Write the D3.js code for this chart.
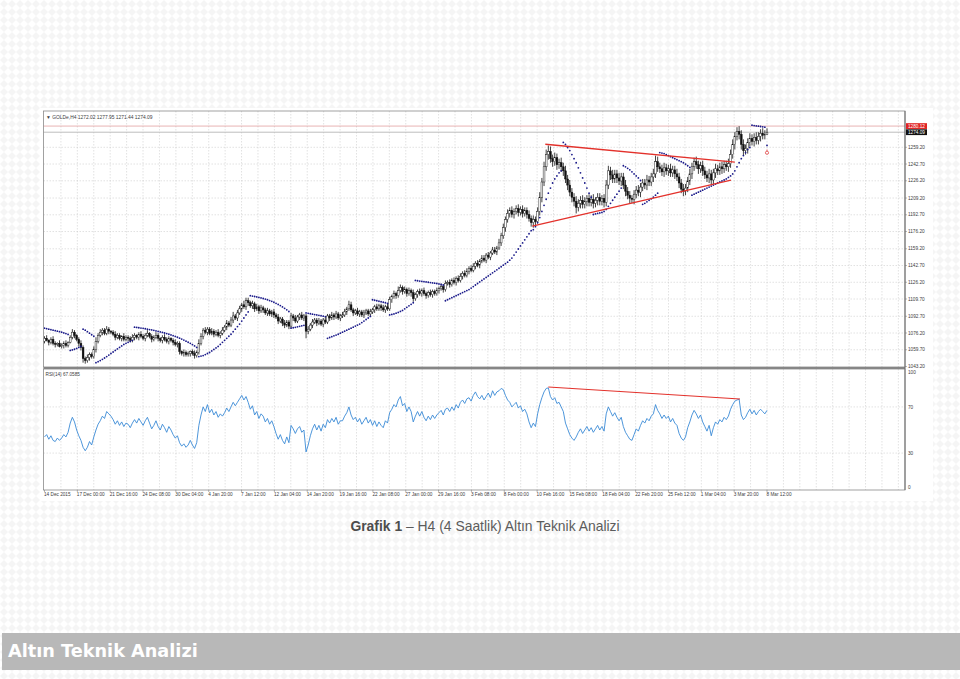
<!DOCTYPE html>
<html>
<head>
<meta charset="utf-8">
<script src="https://cdn.jsdelivr.net/npm/d3@7"></script>
<style>
  body { margin: 0; background: #fff; }
  svg { display: block; }
</style>
</head>
<body>
<svg id="chart" width="960" height="679"></svg>
<script>
// ---- data (GOLD, H4, 14 Dec 2015 - 8 Mar 2016) ----
// closes per bar; each 4H bar opens at the previous close
const firstOpen = 1068;
const closes = [
  1071,1069,1067,1070,1066,1065,1066,1063,1064,1066,1064,1067,
  1072,1077,1074,1070,1066,1062,1051,1049,
  1052,1055,1053,1060,1068,1074,1077,1079,1076,1080,1078,1077,
  1075,1072,1074,1071,1073,1070,1072,1071,1069,1072,
  1074,1072,1075,1073,1071,1074,1076,1073,1070,1072,1074,1071,1069,1072,1070,1068,1071,1069,1067,1065,1066,
  1058,1056,1057,1055,1056,1058,1056,1054,1057,
  1066,1073,1079,1077,1080,1076,1078,1075,1077,1074,1076,
  1079,1082,1086,1084,1089,1093,1091,1096,1100,1104,1102,1108,
  1106,1103,1105,1100,1102,1098,1101,1099,1096,1098,1095,1097,1094,
  1092,1088,1090,1086,1084,1087,1083,1093,1091,1088,1092,1094,1091,1093,
  1078,1080,1084,1087,1089,1086,1088,1085,1089,1087,1093,1091,1094,1092,1095,1091,1093,
  1094,1097,1100,1104,1099,1096,1098,1095,1097,1094,1096,1098,1095,1097,
  1099,1102,1100,1103,1101,1099,1102,1100,1109,1112,1115,1113,1118,1121,
  1117,1119,1115,1118,1116,1110,1114,1117,1115,1118,1115,1113,1116,1114,1117,1115,1118,
  1120,1122,1119,1125,1126,1124,1128,1126,1130,1128,1132,1135,1133,1137,
  1140,1138,1142,1145,1143,1147,1150,1148,1153,1151,1155,1158,1156,1160,
  1165,1172,1180,1188,1194,1197,1193,1196,1199,1195,1198,1194,1197,1193,1189,1185,1188,1186,
  1196,1210,1225,1240,1252,1255,1248,1245,1249,1242,1244,1240,1236,
  1228,1222,1215,1210,1206,1200,1204,1207,1203,1206,1209,1205,1208,1204,1207,1210,1206,1209,1205,
  1222,1236,1232,1228,1233,1229,1226,1230,1222,1216,1212,1209,1208,
  1213,1217,1215,1220,1224,1222,1227,1225,1230,1233,1245,1240,
  1238,1235,1239,1236,1238,1234,1237,1233,1230,1224,1218,1216,1219,
  1226,1233,1240,1245,1242,1238,1241,1236,1232,1229,1233,1227,
  1234,1238,1236,1240,1238,1242,1240,1243,1252,1262,1270,1275,1272,
  1262,1256,1258,1264,1268,1265,1269,1266,1270,1273,1271,1272.02,1274.09
];
// wick length above / below the body, price units
const wickUp = [
  2,3,1,2,3,2,1,3,2,2,3,1,2,3,2,1,2,3,2,2,
  3,2,2,3,4,2,3,2,2,3,2,1,2,3,2,2,1,3,2,2,
  2,3,2,1,2,3,2,2,3,1,2,2,3,2,1,2,3,2,2,1,
  2,3,2,2,1,3,2,2,1,2,3,2,4,3,2,3,2,2,3,2,
  2,3,2,3,2,3,2,3,4,2,3,3,2,4,3,3,2,3,2,3,
  2,3,2,2,3,2,2,3,2,3,2,2,3,2,2,3,2,3,2,2,
  3,2,2,3,2,3,2,2,3,2,2,3,2,2,3,2,3,2,2,3,
  3,2,4,3,2,2,3,2,2,3,2,2,3,2,2,3,2,2,3,2,
  3,3,2,3,2,4,3,2,3,2,3,2,3,2,2,3,2,3,2,2,
  3,2,2,3,2,3,2,3,2,3,2,3,2,3,3,2,3,3,2,3,
  3,2,3,2,3,3,2,3,2,3,3,2,4,3,4,3,4,3,4,3,
  3,4,3,4,3,3,4,3,4,3,4,5,4,5,5,6,5,4,5,4,
  4,5,4,5,4,5,4,4,5,4,4,5,4,3,4,4,5,3,4,4,
  3,4,5,5,4,5,4,4,5,4,4,5,4,4,3,4,4,5,4,4,
  4,5,4,4,5,6,5,4,4,5,4,4,5,4,4,5,4,4,5,4,
  4,5,4,4,5,4,4,5,4,4,5,4,4,5,4,4,5,4,4,5,
  5,5,4,4,5,4,5,4,4,5,4,4,5,4,4,5,4,3.86
];
const wickDn = [
  2,1,3,2,2,3,2,1,2,3,2,2,1,2,3,2,3,3,4,3,
  2,3,2,2,3,2,2,3,2,2,3,2,2,3,2,2,3,2,2,3,
  2,2,3,2,3,2,2,3,2,2,3,2,2,3,2,3,2,2,3,2,
  3,2,3,3,2,3,2,2,3,2,3,2,2,2,3,2,3,2,2,3,
  2,2,3,2,2,3,2,2,3,2,3,2,3,2,3,3,2,3,3,2,
  3,2,3,2,3,2,3,3,2,3,2,3,3,2,3,2,3,2,2,3,
  2,3,7,3,2,3,2,3,2,2,3,2,2,3,2,3,2,2,3,2,
  2,3,2,2,3,2,2,3,2,3,2,2,3,2,3,2,2,3,2,3,
  2,2,3,2,3,2,2,3,2,3,2,4,3,2,3,2,3,2,3,2,
  2,3,2,2,3,2,3,2,2,3,2,2,3,2,2,3,2,2,3,2,
  2,3,2,3,2,2,3,2,3,2,2,3,2,3,3,4,3,4,3,4,
  3,4,3,4,3,4,3,4,5,4,2,4,5,4,4,5,4,5,4,5,
  4,5,5,4,5,4,5,5,6,4,5,4,4,5,4,4,5,4,5,4,
  4,5,4,4,5,4,4,5,4,5,4,5,4,5,4,5,4,4,5,4,
  4,5,4,4,5,4,5,4,4,5,4,5,4,4,5,4,5,4,5,4,
  4,4,5,4,4,5,4,5,4,4,5,4,4,5,4,4,5,4,4,5,
  4,4,5,4,5,5,5,4,5,4,4,5,4,4,5,4,4,0.58
];
// RSI(14)
const rsi = [
  44,46,42,45,41,40,43,41,43,46,44,48,
  56,61,57,50,45,41,35,32,
  35,40,37,44,50,55,58,62,60,66,64,62,
  59,55,58,54,57,53,56,55,52,56,
  59,56,60,57,54,58,61,56,51,54,58,53,50,55,52,48,53,50,46,43,45,
  39,36,38,35,37,41,37,34,39,
  54,63,70,66,72,65,68,63,66,61,64,
  62,65,69,66,70,74,71,74,77,80,76,79,
  74,68,71,63,66,60,64,62,57,60,55,58,53,
  47,42,46,41,38,44,39,54,51,47,51,53,48,50,
  31,37,45,51,55,50,54,49,55,52,59,56,60,57,61,55,58,
  58,62,65,70,63,59,61,57,60,55,58,61,56,59,
  54,58,53,57,54,52,58,56,65,68,72,70,76,79,
  71,73,66,70,66,57,62,66,62,66,61,58,62,59,63,60,63,
  65,67,63,68,69,66,70,67,72,69,74,76,73,77,
  78,75,80,83,79,77,80,76,79,82,78,84,80,83,
  84,86,85,80,76,74,70,72,74,69,71,66,68,64,57,52,56,53,
  64,72,78,83,86,86.5,79,76,78,73,74,70,66,
  56,51,46,43,41,44,48,51,47,50,53,49,52,48,51,54,50,53,49,
  64,70,66,62,65,61,58,61,53,48,45,42,41,
  46,51,49,54,58,56,60,58,62,64,72,67,
  64,60,63,60,62,57,60,56,54,47,43,41,44,
  52,57,63,67,64,60,63,57,53,49,54,45,
  52,57,55,59,57,61,59,62,68,72,75,76,76.7,
  63,59,61,65,68,64,67,63,66,68,66,64,67.06
];
// Parabolic SAR
const sar = [
  1081,1080.5,1080,1079.5,1079,1078.5,1078,1077.5,1077,1076.3,1075.6,1074.8,
  1059,1059.5,1060.2,1061,1062,1063,
  1080,1079,1077.5,1076,1074.5,1073,
  1047,1048,1049,1050.3,1051.6,1053,1054.5,1056,1057.5,1059,1060.5,1062,1063.5,1065,1066,1067,1068,1069,
  1082,1081.7,1081.4,1081.1,1080.8,1080.4,1080,1079.6,1079.2,1078.8,1078.3,1077.8,1077.3,1076.8,1076.2,
  1075.6,1075,1074.3,1073.6,1072.8,1072,1071.1,1070.2,1069.2,1068.2,1067.1,1066,1064.8,1063.5,1062,
  1053,1053.5,1054,1055,1056,1057,1058.5,1060,1061.5,1063,1065,1067,1069,1071,1073,1075,1077.5,1080,1082.5,1085,1088,1091,1094,1097,
  1113,1112.6,1112.2,1111.8,1111.3,1110.8,1110.2,1109.6,1109,1108.2,1107.4,1106.5,1105.5,1104.4,1103.2,1101.9,1100.5,1099,1097.4,
  1081,1081.4,1081.8,1082.3,1082.8,1083.3,1083.8,
  1096,1095.6,1095.2,1094.8,1094.4,1094,1093.6,1093.2,1092.8,1092.4,
  1071,1071.8,1072.6,1073.4,1074.2,1075,1076,1077,1078,1079,1080,1081,1082,1083,1084,1085,1086.5,1088,1089.5,1091,1092.5,
  1109,1108.5,1108,1107.5,1107,1106.5,1106,1105.5,
  1094,1094.5,1095,1095.7,1096.5,1097.5,1098.5,1100,1101.5,1103,1104.5,1106,
  1128,1127.7,1127.4,1127.1,1126.8,1126.5,1126.2,1125.9,1125.6,1125.3,1125,1124.5,1124,1123.5,
  1108,1109,1110,1111,1112,1113,1114,1115,1116,1117,1118,1119,1120.5,1122,1123.5,1125,
  1126.5,1128,1129.5,1131,1132.5,1134,1135.5,1137,1138.5,1140,1141.5,1143,1144.5,1146,1148,
  1150,1153,1156,1159,1162,1165,1168,1171,1174,1177,
  1178,1181,1185,1190,1196,1202,1208,1214,1219,1224,1228,1231,1234,1236,
  1264,1262,1259,1256,1252,1248,1244,1239,1234,1229,1224,1219,1214,1210,
  1193,1193.5,1194,1194.5,1195,1196,1198,1201,1204,1207,1210,1213,1216,1219,
  1241,1240,1238.5,1237,1235,1233,1231,1229,1226.5,
  1203,1204,1205.5,1207,1208.5,1210,1212,1214,
  1254,1253.5,1253,1252,1251,1250,1249,1248,1247,1246,1245,1244,1242.5,1241,1239.5,
  1212,1213,1214,1215,1216,1217,1218,1219,1220,1221,1222,1223,1224,1225,1226,1227,1228,1229.5,1231,
  1233,1236,1240,1244,1248,1251,1254,1257,1259,
  1281,1280.6,1280.3,1280,1279.7,1279.4,1279,
  1261
];

const priceTicks = [1259.20, 1242.70, 1226.20, 1209.20, 1192.70, 1176.20, 1159.20,
  1142.70, 1126.20, 1109.70, 1092.70, 1076.20, 1059.70, 1043.20];
const rsiTicks = [100, 70, 30, 0];
const rsiLevels = [70, 30];
const timeLabels = ['14 Dec 2015', '17 Dec 00:00', '21 Dec 16:00', '24 Dec 08:00', '30 Dec 04:00',
  '4 Jan 20:00', '7 Jan 12:00', '12 Jan 04:00', '14 Jan 20:00', '19 Jan 16:00', '22 Jan 08:00',
  '27 Jan 00:00', '29 Jan 16:00', '3 Feb 08:00', '8 Feb 00:00', '10 Feb 16:00', '15 Feb 08:00',
  '18 Feb 04:00', '22 Feb 20:00', '25 Feb 12:00', '1 Mar 04:00', '3 Mar 20:00', '8 Mar 12:00'];
// levels drawn on the chart
const askLevel = 1280.12;
const bidLevel = 1274.09;
// trend lines: [bar, value]
const upperTrend = [[233.6, 1262.2], [322, 1244.5]];
const lowerTrend = [[227.5, 1181.5], [320.2, 1226.8]];
const rsiTrend = [[235, 87.3], [324.4, 76.9]];
const stopMark = [337, 1254.6];
const header = '\u25BC GOLDe,H4  1272.02 1277.95 1271.44 1274.09';
const rsiHeader = 'RSI(14) 67.0585';

// ---- layout ----
const W = 960, H = 679;
const frame = { left: 43.5, right: 905, pTop: 111, pBot: 367, rTop: 369, rBot: 490 };
const smallFont = 'Liberation Sans, Arial, sans-serif';

const svg = d3.select('#chart');
const defs = svg.append('defs');

// page background pattern
const pat = defs.append('pattern')
    .attr('id', 'bg')
    .attr('width', 8).attr('height', 8)
    .attr('patternUnits', 'userSpaceOnUse');
pat.append('rect').attr('width', 8).attr('height', 8).attr('fill', '#ffffff');
pat.append('path').attr('d', 'M4 0L8 4L4 8L0 4Z').attr('fill', '#f5f5f5');
svg.append('rect').attr('width', W).attr('height', H).attr('fill', 'url(#bg)');

// screenshot area
svg.append('rect')
    .attr('x', 40).attr('y', 108)
    .attr('width', 893).attr('height', 393)
    .attr('fill', '#ffffff');

defs.append('clipPath').attr('id', 'pclip').append('rect')
    .attr('x', frame.left).attr('y', frame.pTop)
    .attr('width', frame.right - frame.left).attr('height', frame.pBot - frame.pTop);
defs.append('clipPath').attr('id', 'rclip').append('rect')
    .attr('x', frame.left).attr('y', frame.rTop)
    .attr('width', frame.right - frame.left).attr('height', frame.rBot - frame.rTop);

const n = closes.length;
const x = d3.scaleLinear().domain([0, n - 1]).range([44.5, 767]);
const y = d3.scaleLinear().domain([1043.2, 1259.2]).range([366.5, 147.3]);
const yr = d3.scaleLinear().domain([0, 100]).range([487.7, 372.3]);

const bars = closes.map((c, i) => {
    const o = i === 0 ? firstOpen : closes[i - 1];
    return {
        i, o, c,
        h: Math.max(o, c) + wickUp[i],
        l: Math.min(o, c) - wickDn[i]
    };
});

// ---- grid ----
const barsPerLabel = (n - 1) / (timeLabels.length - 1);
const gridIdx = d3.range(1, 60).map(k => k * barsPerLabel / 2).filter(v => x(v) < frame.right - 1);

const grid = svg.append('g')
    .attr('stroke', '#c4c4c4')
    .attr('stroke-width', 0.5)
    .attr('stroke-dasharray', '1.5,1.5');

grid.selectAll('line.vp').data(gridIdx).join('line')
    .attr('x1', d => x(d)).attr('x2', d => x(d))
    .attr('y1', frame.pTop).attr('y2', frame.pBot);
grid.selectAll('line.vr').data(gridIdx).join('line')
    .attr('x1', d => x(d)).attr('x2', d => x(d))
    .attr('y1', frame.rTop).attr('y2', frame.rBot);
grid.selectAll('line.hp').data(priceTicks.slice(0, -1)).join('line')
    .attr('x1', frame.left).attr('x2', frame.right)
    .attr('y1', d => y(d)).attr('y2', d => y(d));
grid.selectAll('line.hr').data(rsiLevels).join('line')
    .attr('x1', frame.left).attr('x2', frame.right)
    .attr('y1', d => yr(d)).attr('y2', d => yr(d));

// level lines
svg.append('line')
    .attr('x1', frame.left).attr('x2', frame.right)
    .attr('y1', y(askLevel)).attr('y2', y(askLevel))
    .attr('stroke', '#e2a0a0').attr('stroke-width', 0.8);
svg.append('line')
    .attr('x1', frame.left).attr('x2', frame.right)
    .attr('y1', y(bidLevel)).attr('y2', y(bidLevel))
    .attr('stroke', '#bdbdbd').attr('stroke-width', 1);

// ---- candles ----
const pg = svg.append('g').attr('clip-path', 'url(#pclip)');

pg.selectAll('line.wick').data(bars).join('line')
    .attr('x1', d => x(d.i)).attr('x2', d => x(d.i))
    .attr('y1', d => y(d.h)).attr('y2', d => y(d.l))
    .attr('stroke', '#111')
    .attr('stroke-width', 0.8);

pg.selectAll('rect.body').data(bars).join('rect')
    .attr('x', d => x(d.i) - 0.9)
    .attr('width', 1.8)
    .attr('y', d => y(Math.max(d.o, d.c)))
    .attr('height', d => Math.max(0.6, Math.abs(y(d.o) - y(d.c))))
    .attr('fill', d => d.c >= d.o ? '#ffffff' : '#111')
    .attr('stroke', '#111')
    .attr('stroke-width', 0.45);

// parabolic SAR dots
pg.selectAll('circle.sar').data(sar).join('circle')
    .attr('cx', (d, i) => x(i))
    .attr('cy', d => y(d))
    .attr('r', 0.9)
    .attr('fill', '#1b1b8a');

// trend lines
const tl = d3.line().x(d => x(d[0])).y(d => y(d[1]));
[upperTrend, lowerTrend].forEach(t => {
    pg.append('path')
        .attr('d', tl(t))
        .attr('fill', 'none')
        .attr('stroke', '#e3312b')
        .attr('stroke-width', 1.3);
});

// stop marker
const sm = pg.append('g')
    .attr('transform', `translate(${x(stopMark[0])},${y(stopMark[1])})`)
    .attr('fill', 'none').attr('stroke', '#e03030').attr('stroke-width', 0.7);
sm.append('circle').attr('r', 1.6).attr('cy', 0.8);
sm.append('line').attr('y1', -2.5).attr('y2', -0.8);

// ---- RSI ----
const rg = svg.append('g').attr('clip-path', 'url(#rclip)');
rg.append('path')
    .datum(rsi)
    .attr('d', d3.line().x((d, i) => x(i)).y(d => yr(d)))
    .attr('fill', 'none')
    .attr('stroke', '#3a8ad6')
    .attr('stroke-width', 0.9);
rg.append('path')
    .attr('d', d3.line().x(d => x(d[0])).y(d => yr(d[1]))(rsiTrend))
    .attr('fill', 'none')
    .attr('stroke', '#e3312b')
    .attr('stroke-width', 1.1);

// ---- frames ----
svg.append('rect')
    .attr('x', frame.left).attr('y', frame.pTop)
    .attr('width', frame.right - frame.left).attr('height', frame.pBot - frame.pTop)
    .attr('fill', 'none').attr('stroke', '#8a8a8a').attr('stroke-width', 0.8);
svg.append('rect')
    .attr('x', frame.left).attr('y', frame.rTop)
    .attr('width', frame.right - frame.left).attr('height', frame.rBot - frame.rTop)
    .attr('fill', 'none').attr('stroke', '#8a8a8a').attr('stroke-width', 0.8);
svg.append('line')
    .attr('x1', frame.left).attr('x2', frame.right)
    .attr('y1', 368).attr('y2', 368)
    .attr('stroke', '#6e6e6e').attr('stroke-width', 1.6);
svg.append('line')
    .attr('x1', frame.right).attr('x2', frame.right)
    .attr('y1', frame.pTop).attr('y2', frame.rBot)
    .attr('stroke', '#6e6e6e').attr('stroke-width', 1);

// ---- axes text ----
const txt = svg.append('g')
    .attr('font-family', smallFont)
    .attr('font-size', 4.7)
    .attr('fill', '#3c3c3c');

txt.selectAll('text.pt').data(priceTicks).join('text')
    .attr('x', 908).attr('y', d => y(d) + 1.6)
    .text(d => d.toFixed(2));
svg.selectAll('line.ptk').data(priceTicks).join('line')
    .attr('x1', frame.right).attr('x2', frame.right + 2)
    .attr('y1', d => y(d)).attr('y2', d => y(d))
    .attr('stroke', '#6e6e6e').attr('stroke-width', 0.5);

txt.selectAll('text.rt').data(rsiTicks).join('text')
    .attr('x', 908).attr('y', d => yr(d) + 1.6)
    .text(d => d);

// price boxes
[[askLevel, '#e02424'], [bidLevel, '#111111']].forEach(([v, col]) => {
    svg.append('rect')
        .attr('x', 906).attr('y', y(v) - 2.9)
        .attr('width', 21).attr('height', 5.8)
        .attr('fill', col);
    svg.append('text')
        .attr('x', 908).attr('y', y(v) + 1.6)
        .attr('font-family', smallFont).attr('font-size', 4.7)
        .attr('fill', '#ffffff')
        .text(v.toFixed(2));
});

txt.selectAll('text.tl').data(timeLabels).join('text')
    .attr('x', (d, k) => x(k * barsPerLabel) - 0.5)
    .attr('y', 496)
    .text(d => d);
svg.selectAll('line.ttk').data(timeLabels).join('line')
    .attr('x1', (d, k) => x(k * barsPerLabel)).attr('x2', (d, k) => x(k * barsPerLabel))
    .attr('y1', frame.rBot).attr('y2', frame.rBot + 2)
    .attr('stroke', '#6e6e6e').attr('stroke-width', 0.5);

txt.append('text').attr('x', 46).attr('y', 118.5).attr('font-size', 4.9).text(header);
txt.append('text').attr('x', 45.5).attr('y', 376).text(rsiHeader);

// ---- caption ----
const cap = svg.append('text')
    .attr('x', 485).attr('y', 531)
    .attr('text-anchor', 'middle')
    .attr('font-family', 'Liberation Sans, Arial, sans-serif')
    .attr('font-size', 13.9)
    .attr('fill', '#5c5c5c');
cap.append('tspan').attr('font-weight', 'bold').attr('fill', '#4d4d4d').text('Grafik 1');
cap.append('tspan').text(' \u2013 H4 (4 Saatlik) Alt\u0131n Teknik Analizi');

// ---- bottom banner ----
svg.append('rect')
    .attr('x', 2).attr('y', 633)
    .attr('width', 958).attr('height', 37)
    .attr('fill', '#b8b8b8');
svg.append('text')
    .attr('x', 8).attr('y', 657)
    .attr('font-family', 'DejaVu Sans, Verdana, sans-serif')
    .attr('font-weight', 'bold')
    .attr('font-size', 17.7)
    .attr('fill', '#ffffff')
    .text('Alt\u0131n Teknik Analizi');
</script>
</body>
</html>
